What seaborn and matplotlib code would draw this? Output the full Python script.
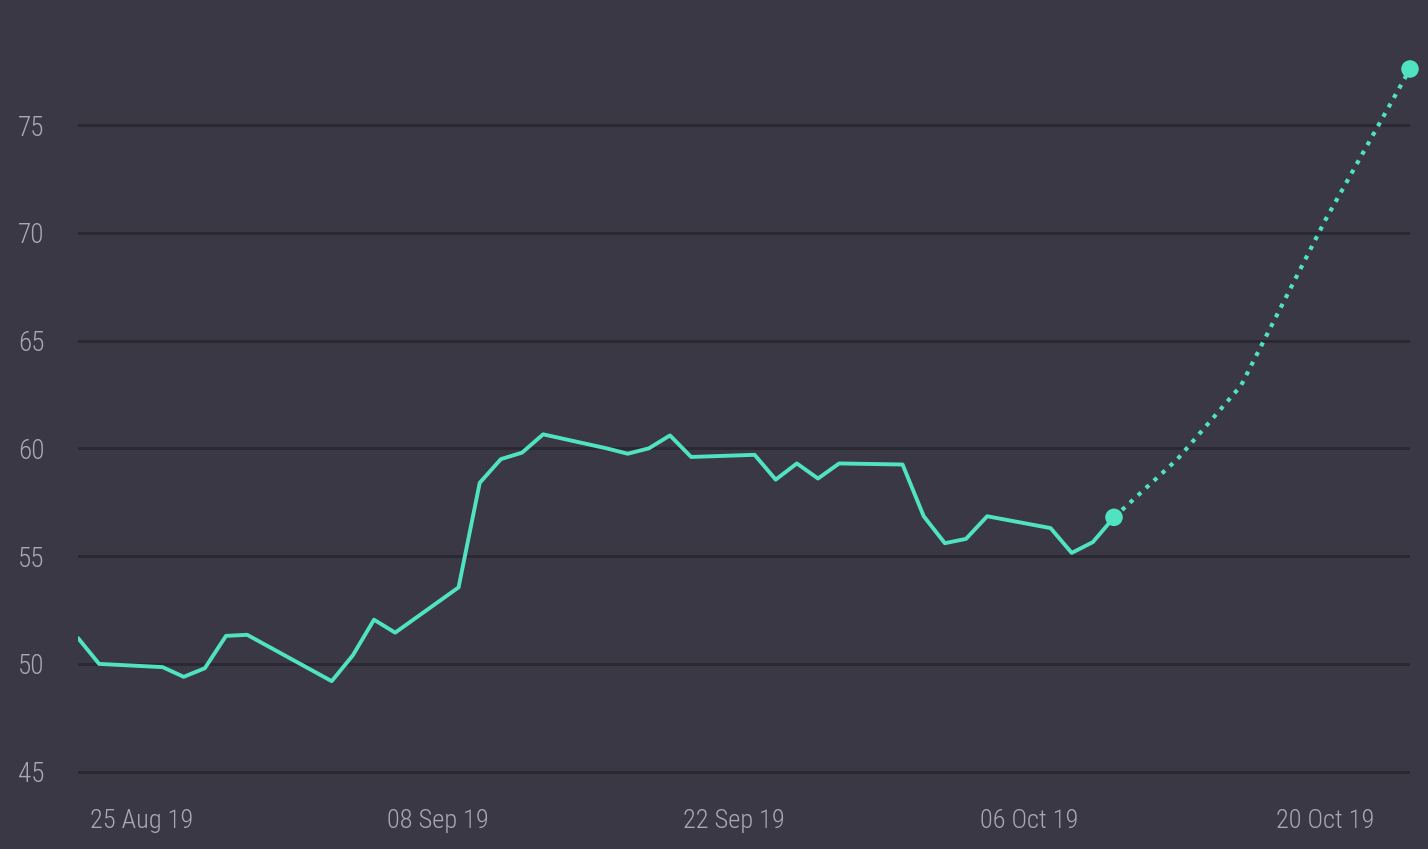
import pandas as pd
import seaborn as sns
import matplotlib.pyplot as plt
import matplotlib.dates as mdates

# actual series (trading days)
dates_actual = ['2019-08-22', '2019-08-23', '2019-08-26', '2019-08-27', '2019-08-28',
                '2019-08-29', '2019-08-30', '2019-09-03', '2019-09-04', '2019-09-05',
                '2019-09-06', '2019-09-09', '2019-09-10', '2019-09-11', '2019-09-12',
                '2019-09-13', '2019-09-16', '2019-09-17', '2019-09-18', '2019-09-19',
                '2019-09-20', '2019-09-23', '2019-09-24', '2019-09-25', '2019-09-26',
                '2019-09-27', '2019-09-30', '2019-10-01', '2019-10-02', '2019-10-03',
                '2019-10-04', '2019-10-07', '2019-10-08', '2019-10-09', '2019-10-10']
values_actual = [51.2, 50.0, 49.85, 49.4, 49.8,
                 51.3, 51.35, 49.2, 50.4, 52.05,
                 51.45, 53.55, 58.4, 59.5, 59.8,
                 60.65, 60.0, 59.75, 60.0, 60.6,
                 59.6, 59.7, 58.55, 59.3, 58.6,
                 59.3, 59.25, 56.85, 55.6, 55.8,
                 56.85, 56.3, 55.15, 55.65, 56.8]

# forecast series
dates_forecast = ['2019-10-10', '2019-10-13', '2019-10-16', '2019-10-20', '2019-10-24']
values_forecast = [56.8, 59.5, 62.9, 70.6, 77.6]

tick_dates = ['2019-08-25', '2019-09-08', '2019-09-22', '2019-10-06', '2019-10-20']
y_ticks = [45, 50, 55, 60, 65, 70, 75]

BG = '#393844'
GRID = '#2a2932'
TEXT = '#a9a8b4'
LINE = '#50e3c2'

df_act = pd.DataFrame({'date': pd.to_datetime(dates_actual), 'value': values_actual})
df_fc = pd.DataFrame({'date': pd.to_datetime(dates_forecast), 'value': values_forecast})

sns.set_theme(style='dark')
plt.rcParams['font.family'] = ['Roboto Condensed', 'Liberation Sans Narrow', 'Roboto', 'DejaVu Sans']

fig = plt.figure(figsize=(14.28, 8.49), dpi=100, facecolor=BG)
ax = fig.add_axes([78 / 1428, 59 / 849, 1332 / 1428, 790 / 849])
ax.set_facecolor(BG)

sns.lineplot(data=df_act, x='date', y='value', ax=ax, color=LINE, linewidth=2.8)
sns.lineplot(data=df_fc, x='date', y='value', ax=ax, color=LINE, linewidth=3.0,
             linestyle=(0, (1, 1.6)))

# end markers
ends = pd.DataFrame({'date': [df_act['date'].iloc[-1], df_fc['date'].iloc[-1]],
                     'value': [values_actual[-1], values_forecast[-1]]})
sns.scatterplot(data=ends, x='date', y='value', ax=ax, color=LINE, s=160,
                edgecolor='none', zorder=5)
for c in ax.collections:
    c.set_clip_on(False)

ax.set_xlim(pd.Timestamp('2019-08-22'), pd.Timestamp('2019-10-24'))
ax.set_ylim(44.15, 80.8)
ax.set_yticks(y_ticks)
ax.set_xticks(pd.to_datetime(tick_dates))
ax.xaxis.set_major_formatter(mdates.DateFormatter('%d %b %y'))

ax.grid(axis='y', color=GRID, linewidth=2)
ax.grid(axis='x', visible=False)
for s in ax.spines.values():
    s.set_visible(False)

ax.tick_params(axis='y', length=0, pad=43, labelsize=19.5, labelcolor=TEXT)
ax.tick_params(axis='x', length=0, pad=14, labelsize=19, labelcolor=TEXT)
for lbl in ax.get_yticklabels() + ax.get_xticklabels():
    lbl.set_fontweight('light')
for lbl in ax.get_yticklabels():
    lbl.set_horizontalalignment('left')
ax.set_xlabel('')
ax.set_ylabel('')

fig.savefig('out.png', dpi=100, facecolor=BG)
